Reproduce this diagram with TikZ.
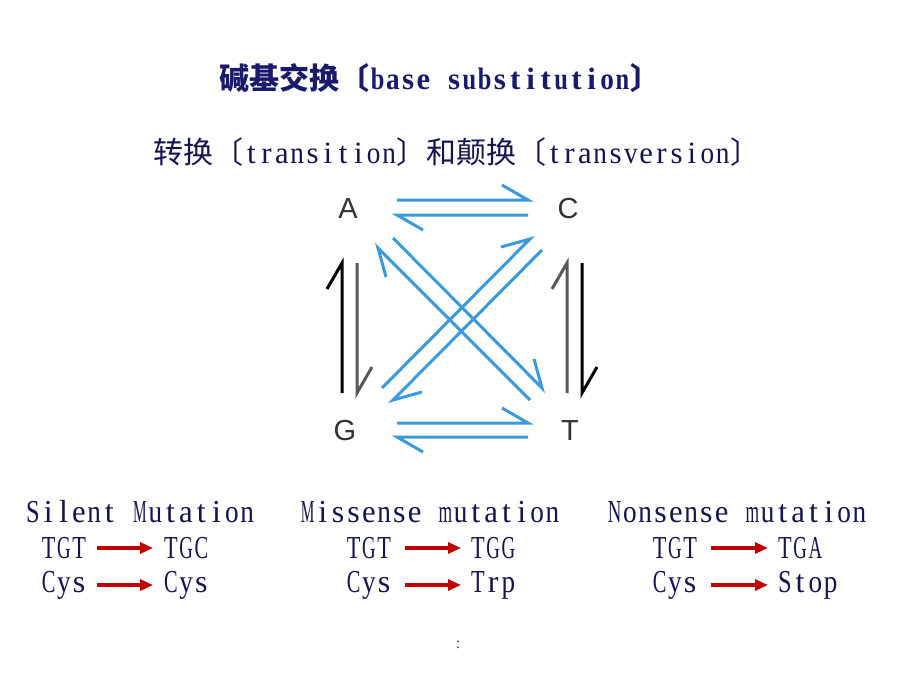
\documentclass[tikz,border=0pt]{standalone}
\usepackage{fontspec}
\usepackage{graphicx}
\usetikzlibrary{arrows.meta}
\setmainfont{Liberation Serif}
\newfontfamily\cjk{Noto Sans CJK SC}
\newfontfamily\basefont{Liberation Sans}
\definecolor{navy}{HTML}{1A1A6A}
\definecolor{ink}{HTML}{14144E}
\definecolor{arrowblue}{HTML}{3A9ADB}
\definecolor{darkred}{HTML}{C00000}
\definecolor{lettergray}{HTML}{333333}
\newlength\cellw \setlength\cellw{15.3pt}
\newlength\maxw \setlength\maxw{13.6pt}
\newcommand\monochar[1]{\setbox0\hbox{#1}\ifdim\wd0>\maxw\makebox[\cellw]{\resizebox{\maxw}{\height}{#1}}\else\makebox[\cellw]{#1}\fi}
\makeatletter
\newcommand\mono[1]{\@tfor\mc:=#1\do{\monochar{\mc}}}
\makeatother
\newcommand\msp{\hspace*{\cellw}}
\begin{document}
\begin{tikzpicture}[x=1pt,y=-1pt,
  titletext/.style={inner sep=0pt,text=navy,font=\fontsize{31}{36}\selectfont\bfseries},
  subtext/.style={inner sep=0pt,text=ink,font=\fontsize{31}{36}\selectfont},
  base/.style={inner sep=0pt,text=lettergray,font=\basefont\fontsize{29}{34}\selectfont},
  codon/.style={inner sep=0pt,text=ink,font=\fontsize{32}{36}\selectfont},
  blueline/.style={draw=arrowblue,line width=3pt},
  blackline/.style={draw=black,line width=3pt},
  grayline/.style={draw=black!65,line width=3pt},
  redarrow/.style={draw=darkred,line width=4pt,-{Triangle[length=13pt,width=11pt]}}
]
\useasboundingbox (0,0) rectangle (920,690);
\fill[white] (0,0) rectangle (920,690);
% titles
\node[titletext] (title) at (440,78) {{\cjk\fontsize{30}{36}\selectfont 碱基交换〔}\mono{base}\msp\mono{substitution}{\cjk\fontsize{30}{36}\selectfont 〕}};
\node[subtext] (sub) at (457,152) {{\cjk\fontsize{30}{36}\selectfont 转换〔}\mono{transition}{\cjk\fontsize{30}{36}\selectfont 〕和颠换〔}\mono{transversion}{\cjk\fontsize{30}{36}\selectfont 〕}};
% bases
\node[base] (A) at (348,209) {A};
\node[base] (C) at (568,209) {C};
\node[base] (G) at (345,431) {G};
\node[base] (T) at (570,431) {T};
% horizontal blue
\draw[blueline] (397,200) -- (528,200) -- (502,185);
\draw[blueline] (528,215) -- (397,215) -- (423,230);
\draw[blueline] (397,423) -- (528,423) -- (502,408);
\draw[blueline] (528,437) -- (397,437) -- (423,452);
% vertical
\draw[blackline] (342,393) -- (342,263) -- (327,289);
\draw[grayline] (357,263) -- (357,393) -- (372,367);
\draw[grayline] (567,393) -- (567,263) -- (552,289);
\draw[blackline] (582,263) -- (582,393) -- (597,367);
% diagonals
\draw[blueline] (382,388) -- (530,239) -- (501,247);
\draw[blueline] (542,250) -- (393,400) -- (422,392);
\draw[blueline] (530,400) -- (378,248) -- (386,277);
\draw[blueline] (393,238) -- (542,388) -- (534,359);
% mutation headings
\node[codon] (h1) at (140,512) {\mono{Silent}\msp\mono{Mutation}};
\node[codon] (h2) at (430,512) {\mono{Missense}\msp\mono{mutation}};
\node[codon] (h3) at (737,512) {\mono{Nonsense}\msp\mono{mutation}};
% silent
\node[codon,anchor=east] (s1a) at (87,548) {\mono{TGT}};
\node[codon,anchor=west] (s1b) at (163,548) {\mono{TGC}};
\node[codon,anchor=east] (s2a) at (87,585) {\mono{Cys}};
\node[codon,anchor=west] (s2b) at (163,585) {\mono{Cys}};
% missense
\node[codon,anchor=east] (m1a) at (392,548) {\mono{TGT}};
\node[codon,anchor=west] (m1b) at (470,548) {\mono{TGG}};
\node[codon,anchor=east] (m2a) at (392,585) {\mono{Cys}};
\node[codon,anchor=west] (m2b) at (470,585) {\mono{Trp}};
% nonsense
\node[codon,anchor=east] (n1a) at (698,548) {\mono{TGT}};
\node[codon,anchor=west] (n1b) at (777,548) {\mono{TGA}};
\node[codon,anchor=east] (n2a) at (698,585) {\mono{Cys}};
\node[codon,anchor=west] (n2b) at (777,585) {\mono{Stop}};
% red arrows
\coordinate (s1s) at (97,548); \coordinate (s1e) at (153,548);
\coordinate (s2s) at (97,585); \coordinate (s2e) at (153,585);
\coordinate (m1s) at (405,548); \coordinate (m1e) at (461,548);
\coordinate (m2s) at (405,585); \coordinate (m2e) at (461,585);
\coordinate (n1s) at (711,548); \coordinate (n1e) at (768,548);
\coordinate (n2s) at (711,585); \coordinate (n2e) at (768,585);
\foreach \nm in {s1,s2,m1,m2,n1,n2}{\draw[redarrow] (\nm s) -- (\nm e);}
% colon
\node[inner sep=0pt,text=black!70,font=\fontsize{16}{18}\selectfont] (colon) at (458,645) {:};
\end{tikzpicture}
\end{document}
